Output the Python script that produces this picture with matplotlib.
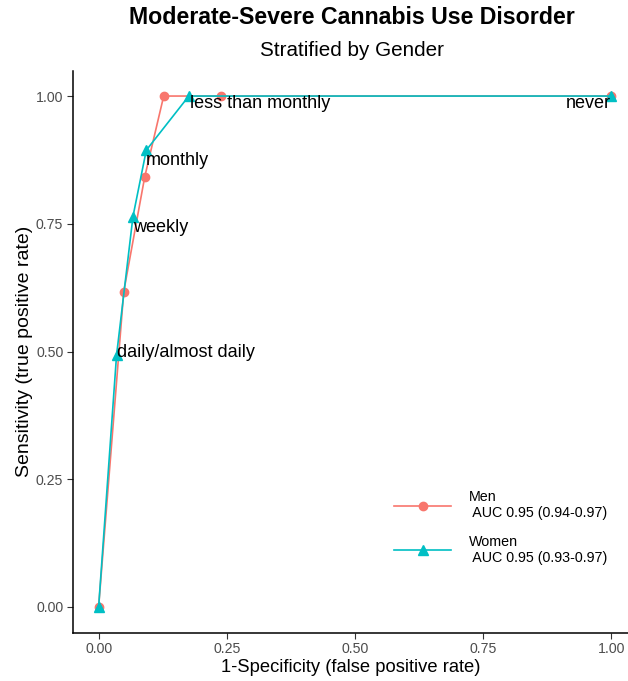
import matplotlib.pyplot as plt

plt.rcParams['font.family'] = ['Liberation Sans', 'DejaVu Sans']

# ROC points
men_fpr = [0.0, 0.049, 0.090, 0.127, 0.238, 1.0]
men_tpr = [0.0, 0.617, 0.842, 1.0, 1.0, 1.0]
women_fpr = [0.0, 0.035, 0.067, 0.093, 0.176, 1.0]
women_tpr = [0.0, 0.493, 0.764, 0.894, 1.0, 1.0]

men_label = 'Men\n AUC 0.95 (0.94-0.97)'
women_label = 'Women\n AUC 0.95 (0.93-0.97)'

# threshold labels (text anchor in data coordinates)
cut_labels = ['daily/almost daily', 'weekly', 'monthly', 'less than monthly', 'never']
cut_x = [0.035, 0.068, 0.093, 0.178, 1.0]
cut_y = [0.489, 0.734, 0.865, 0.976, 0.976]
cut_ha = ['left', 'left', 'left', 'left', 'right']

ticks = [0, 0.25, 0.5, 0.75, 1.0]
tick_labels = ['0.00', '0.25', '0.50', '0.75', '1.00']

men_col = '#F8766D'
women_col = '#00BFC4'

fig = plt.figure(figsize=(6.28, 6.81), dpi=100)
ax = fig.add_axes([73 / 628, 48.5 / 681, 555 / 628, 562 / 681])

ax.plot(men_fpr, men_tpr, color=men_col, lw=1.2, marker='o', ms=6, label=men_label)
ax.plot(women_fpr, women_tpr, color=women_col, lw=1.2, marker='^', ms=7, label=women_label)

for t, x, y, h in zip(cut_labels, cut_x, cut_y, cut_ha):
    ax.text(x, y, t, ha=h, va='baseline', fontsize=13, color='black')

ax.set_xlim(-0.05, 1.033)
ax.set_ylim(-0.05, 1.05)
ax.set_xticks(ticks)
ax.set_xticklabels(tick_labels)
ax.set_yticks(ticks)
ax.set_yticklabels(tick_labels)
ax.tick_params(colors='#333333', labelcolor='#4D4D4D', labelsize=10.2,
               length=4, width=0.8, pad=3)

for s in ['top', 'right']:
    ax.spines[s].set_visible(False)
for s in ['left', 'bottom']:
    ax.spines[s].set_linewidth(1.1)

ax.set_xlabel('1-Specificity (false positive rate)', fontsize=13.2, labelpad=2)
ax.set_ylabel('Sensitivity (true positive rate)', fontsize=14, labelpad=2)

fig.text(351.5 / 628, 1 - 24 / 681, 'Moderate-Severe Cannabis Use Disorder',
         ha='center', va='baseline', fontsize=16.7, fontweight='bold')
fig.text(351.5 / 628, 1 - 56.5 / 681, 'Stratified by Gender',
         ha='center', va='baseline', fontsize=14.9)

ax.legend(loc='upper left', bbox_to_anchor=(0.5658, 0.266), frameon=False,
          fontsize=10.3, handlelength=4.0, labelspacing=1.0, borderpad=0,
          handletextpad=1.25)

fig.savefig('out.png', dpi=100)
